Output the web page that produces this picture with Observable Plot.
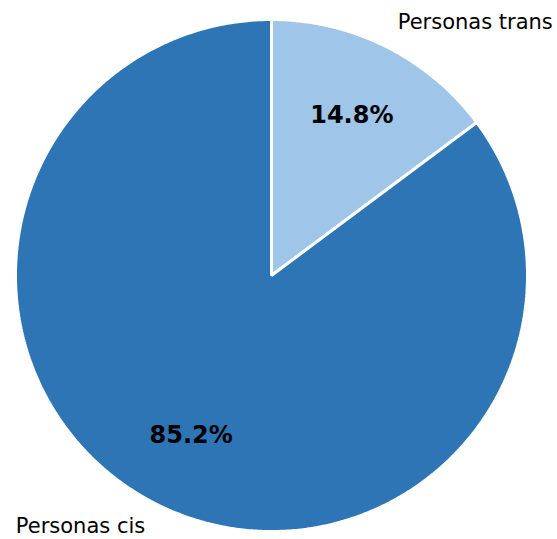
<!DOCTYPE html>
<html>
<head>
<meta charset="utf-8">
<script src="https://cdn.jsdelivr.net/npm/d3@7"></script>
<script src="https://cdn.jsdelivr.net/npm/@observablehq/plot@0.6"></script>
<style>
  html, body { margin: 0; padding: 0; background: #fff; }
  #chart svg { display: block; }
</style>
</head>
<body>
<div id="chart"></div>
<script>
const labels = ["Personas trans", "Personas cis"];
const values = [14.8, 85.2];
const colors = ["#9fc5e8", "#2e75b6"];

const total = d3.sum(values);
// slices: clockwise from top
let acc = 0;
const slices = labels.map((label, i) => {
  const a0 = acc / total * 2 * Math.PI;
  acc += values[i];
  const a1 = acc / total * 2 * Math.PI;
  return {label, value: values[i], a0, a1, mid: (a0 + a1) / 2};
});

const pts = [];
for (const s of slices) {
  pts.push({label: s.label, x: 0, y: 0});
  const n = Math.max(2, Math.ceil((s.a1 - s.a0) / (Math.PI / 360)));
  for (let k = 0; k <= n; k++) {
    const a = s.a0 + (s.a1 - s.a0) * k / n;
    pts.push({label: s.label, x: Math.sin(a), y: Math.cos(a)});
  }
}

const pctPos = slices.map(s => ({
  text: s.value.toFixed(1) + "%",
  x: 0.7 * Math.sin(s.mid), y: 0.7 * Math.cos(s.mid)
}));
const lblPos = slices.map(s => ({
  text: s.label,
  x: 1.1 * Math.sin(s.mid), y: 1.1 * Math.cos(s.mid),
  anchor: Math.sin(s.mid) >= 0 ? "start" : "end"
}));

const chart = Plot.plot({
  width: 557,
  height: 539,
  marginLeft: 15,
  marginRight: 30,
  marginTop: 19,
  marginBottom: 8,
  style: {fontFamily: "DejaVu Sans", background: "#fff", overflow: "visible"},
  x: {domain: [-1, 1], axis: null},
  y: {domain: [-1, 1], axis: null},
  color: {domain: labels, range: colors},
  marks: [
    Plot.line(pts, {x: "x", y: "y", z: "label", fill: "label", stroke: "white",
      strokeWidth: 3, strokeLinejoin: "miter", curve: "linear-closed"}),
    Plot.text(pctPos, {x: "x", y: "y", text: "text", fontSize: 24, fontWeight: "bold",
      fill: "black", lineAnchor: "middle", textAnchor: "middle"}),
    Plot.text(lblPos.filter(d => d.anchor === "start"), {x: "x", y: "y", text: "text", fontSize: 21,
      fill: "black", lineAnchor: "middle", textAnchor: "start", dy: -2}),
    Plot.text(lblPos.filter(d => d.anchor === "end"), {x: "x", y: "y", text: "text", fontSize: 21,
      fill: "black", lineAnchor: "middle", textAnchor: "end", dy: -1})
  ]
});
document.getElementById("chart").appendChild(chart);
</script>
</body>
</html>
